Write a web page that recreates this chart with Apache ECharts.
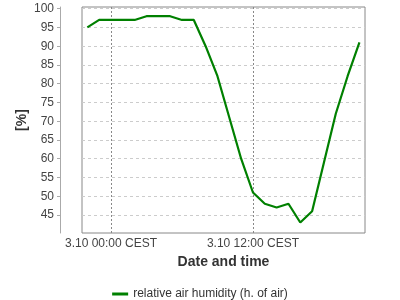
<!DOCTYPE html>
<html><head><meta charset="utf-8">
<script src="https://cdn.jsdelivr.net/npm/echarts@6/dist/echarts.min.js"></script>
<style>html,body{margin:0;padding:0;background:#fff}#c{width:400px;height:300px}</style>
</head><body><div id="c"></div>
<script>
// hours relative to 3.10 00:00 CEST
const hours = [-2,-1,0,1,2,3,4,5,6,7,8,9,10,11,12,13,14,15,16,17,18,19,20,21];
const humidity = [95,97,97,97,97,98,98,98,97,97,90,82,71,60,51,48,47,48,43,46,59,72,82,91];
const xTickValues = [0, 12];
const xTickLabels = ['3.10 00:00 CEST', '3.10 12:00 CEST'];
const yTickValues = [45,50,55,60,65,70,75,80,85,90,95,100];
const seriesName = 'relative air humidity (h. of air)';

const font = '"Liberation Sans", Arial, sans-serif';
const chart = echarts.init(document.getElementById('c'), null, {renderer:'canvas'});
chart.setOption({
  animation:false,
  textStyle:{fontFamily:font},
  grid:{left:82,right:35,top:7,bottom:67,show:true,borderColor:'#888',borderWidth:1,backgroundColor:'#fff'},
  xAxis:{
    type:'value', min:-2.45, max:21.47,
    name:'Date and time', nameLocation:'middle', nameGap:22,
    nameTextStyle:{fontFamily:font,fontSize:14,fontWeight:'bold',color:'#333'},
    axisLine:{show:false, onZero:false},
    axisTick:{show:false, customValues:xTickValues},
    axisLabel:{customValues:xTickValues, margin:5, fontSize:12, color:'#444', fontFamily:font,
      formatter:(v)=>{const i=xTickValues.indexOf(v);return i>=0?xTickLabels[i]:'';}},
    splitLine:{show:true,lineStyle:{color:'#888',type:[2,2],width:1}}
  },
  yAxis:{
    type:'value', min:40.2, max:100.45, offset:22,
    name:'[%]', nameLocation:'middle', nameGap:31, nameRotate:90, nameMoveOverlap:false,
    nameTextStyle:{fontFamily:font,fontSize:14,fontWeight:'bold',color:'#333'},
    axisLine:{show:true,onZero:false,lineStyle:{color:'#aaa',width:1}},
    axisTick:{show:true,length:3,customValues:yTickValues,lineStyle:{color:'#aaa'}},
    axisLabel:{customValues:yTickValues, margin:6, fontSize:12, color:'#444', fontFamily:font},
    splitLine:{show:true,lineStyle:{color:'#ccc',type:[3,3],width:1}}
  },
  legend:{
    top:283, left:'center', icon:'rect', itemWidth:16, itemHeight:3, itemGap:10,
    textStyle:{fontFamily:font,fontSize:12,color:'#333'},
    data:[seriesName]
  },
  series:[{
    name:seriesName, type:'line', showSymbol:false, symbol:'none',
    lineStyle:{color:'#008000',width:2.2}, itemStyle:{color:'#008000'},
    data:hours.map((h,i)=>[h,humidity[i]])
  }]
});
</script></body></html>
